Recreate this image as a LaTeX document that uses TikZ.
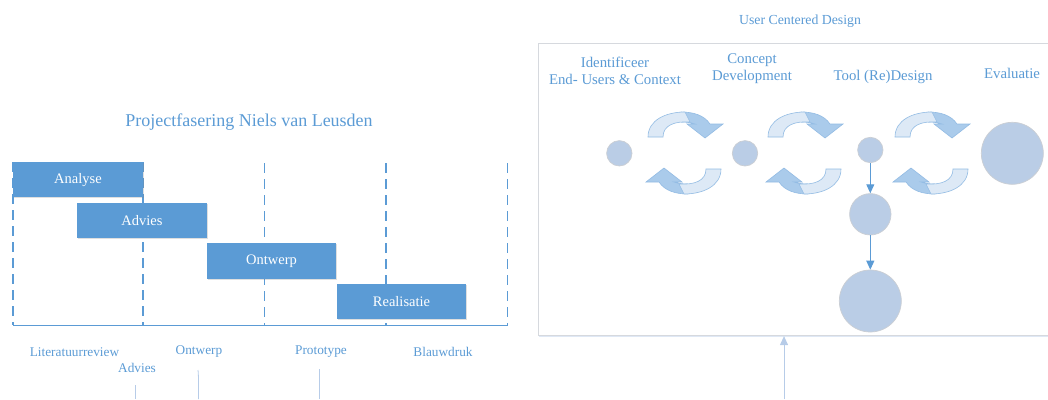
\documentclass[tikz,border=0pt]{standalone}
\usepackage{fontspec}
\setmainfont{Liberation Serif}
\usetikzlibrary{arrows.meta,shadows}
\definecolor{mblue}{HTML}{5B9BD5}
\definecolor{circfill}{HTML}{BACDE6}
\definecolor{circline}{HTML}{CACED4}
\definecolor{arrdark}{HTML}{AACBEB}
\definecolor{arrpale}{HTML}{DDE9F6}
\definecolor{arrline}{HTML}{93BCE4}
\definecolor{faint}{HTML}{B7CCE8}
\definecolor{panelline}{HTML}{D6D9DE}
\tikzset{
  x=1pt, y=-1pt,
  phase/.style={fill=mblue, text=white, inner sep=0pt, minimum height=35.5pt,
    minimum width=130pt, font=\fontsize{14.5}{16}\selectfont,
    drop shadow={shadow xshift=1pt, shadow yshift=-1pt, opacity=0.25}},
  lbl/.style={text=mblue, inner sep=0pt, font=\fontsize{13.3}{15}\selectfont},
  steplbl/.style={text=mblue, inner sep=0pt, align=center, font=\fontsize{14.8}{16.8}\selectfont},
  grid/.style={mblue, line width=1.1pt, dash pattern=on 10pt off 6pt},
  faintline/.style={faint, line width=0.8pt},
  dot/.style={circle, fill=circfill, draw=circline, line width=0.7pt, inner sep=0pt},
  conn/.style={mblue, line width=1pt, -{Triangle[width=8pt,length=9pt]}},
  upconn/.style={faint, line width=1pt, -{Triangle[width=8pt,length=9pt]}},
  panelbox/.style={draw=panelline, fill=white, line width=1.2pt, inner sep=0pt,
    drop shadow={shadow xshift=0.5pt, shadow yshift=-1.5pt, fill=faint, opacity=0.45}},
  pics/cyclearrow/.style={code={
    \filldraw[fill=arrdark, draw=arrline, line width=0.6pt]
      (33,0) .. controls (45,0) and (56,3) .. (62,12) -- (75,12) -- (57,26) -- (39,12) -- (47,12)
      .. controls (43,10.5) and (38,10) .. (33,10) -- cycle;
    \filldraw[fill=arrpale, draw=arrline, line width=0.6pt]
      (0,25) .. controls (0,8) and (18,0) .. (37,0) -- (42,10)
      .. controls (27,9) and (15,13) .. (15,25) -- cycle;
  }}
}
\begin{document}
\begin{tikzpicture}
\useasboundingbox (0,0) rectangle (1048,399);
% ---------- left: project phasing ----------
\node[text=mblue, inner sep=0pt, font=\fontsize{18}{20}\selectfont] (title) at (249,122) {Projectfasering Niels van Leusden};
\foreach \x/\t in {13/162, 143/162, 264.5/163, 386/163, 507.5/163}
  \draw[grid] (\x,\t) -- (\x,325);
\draw[mblue, line width=1.1pt] (13,325.5) -- (507.5,325.5);
\node[phase] (analyse) at (78,179.7) {Analyse};
\node[phase] (advies) at (142,220.5) {Advies};
\node[phase, minimum width=129pt] (ontwerp) at (271.5,261) {Ontwerp};
\node[phase, minimum width=129pt] (realisatie) at (401.5,301.5) {Realisatie};
\node[lbl] (l1) at (74.5,352) {Literatuurreview};
\node[lbl] (l2) at (137,368) {Advies};
\node[lbl] (l3) at (199,352) {Ontwerp};
\node[lbl] (l4) at (321,352) {Prototype};
\node[lbl] (l5) at (443,352) {Blauwdruk};
\draw[faintline] (135.5,385) -- (135.5,399);
\draw[faintline] (198,370) .. controls (198.5,375) .. (198.5,399);
\draw[faintline] (319,369) -- (319,399);
% ---------- right: user centered design ----------
\node[text=mblue, inner sep=0pt, font=\fontsize{13.8}{15}\selectfont] (ucd) at (800,21.7) {User Centered Design};
\node[panelbox, minimum width=522pt, minimum height=292pt] (panel) at (799.5,189.5) {};
\node[steplbl] (s1) at (615,70.5) {Identificeer\\End- Users \& Context};
\node[steplbl] (s2) at (752,69) {Concept\\Development};
\node[steplbl] (s3) at (883,77) {Tool (Re)Design};
\node[steplbl] (s4) at (1012,73) {Evaluatie};
\node[dot, minimum size=25.4pt] (c1) at (619.3,153.3) {};
\node[dot, minimum size=25.4pt] (c2) at (745,153.3) {};
\node[dot, minimum size=25.4pt] (c3) at (870.3,150) {};
\node[dot, minimum size=62pt] (c4) at (1012.3,153.3) {};
\node[dot, minimum size=41.4pt] (c5) at (870.3,214.3) {};
\node[dot, minimum size=62pt] (c6) at (870.3,301) {};
\draw[conn] (c3) -- (c5);
\draw[conn] (c5) -- (c6);
\pic at (648,112) {cyclearrow};
\pic at (768,112) {cyclearrow};
\pic at (895,112) {cyclearrow};
\pic[rotate=180] at (721,194) {cyclearrow};
\pic[rotate=180] at (841,194) {cyclearrow};
\pic[rotate=180] at (968,194) {cyclearrow};
\coordinate (upstart) at (784,399);
\draw[upconn] (upstart) -- (upstart |- panel.south);
\end{tikzpicture}
\end{document}
